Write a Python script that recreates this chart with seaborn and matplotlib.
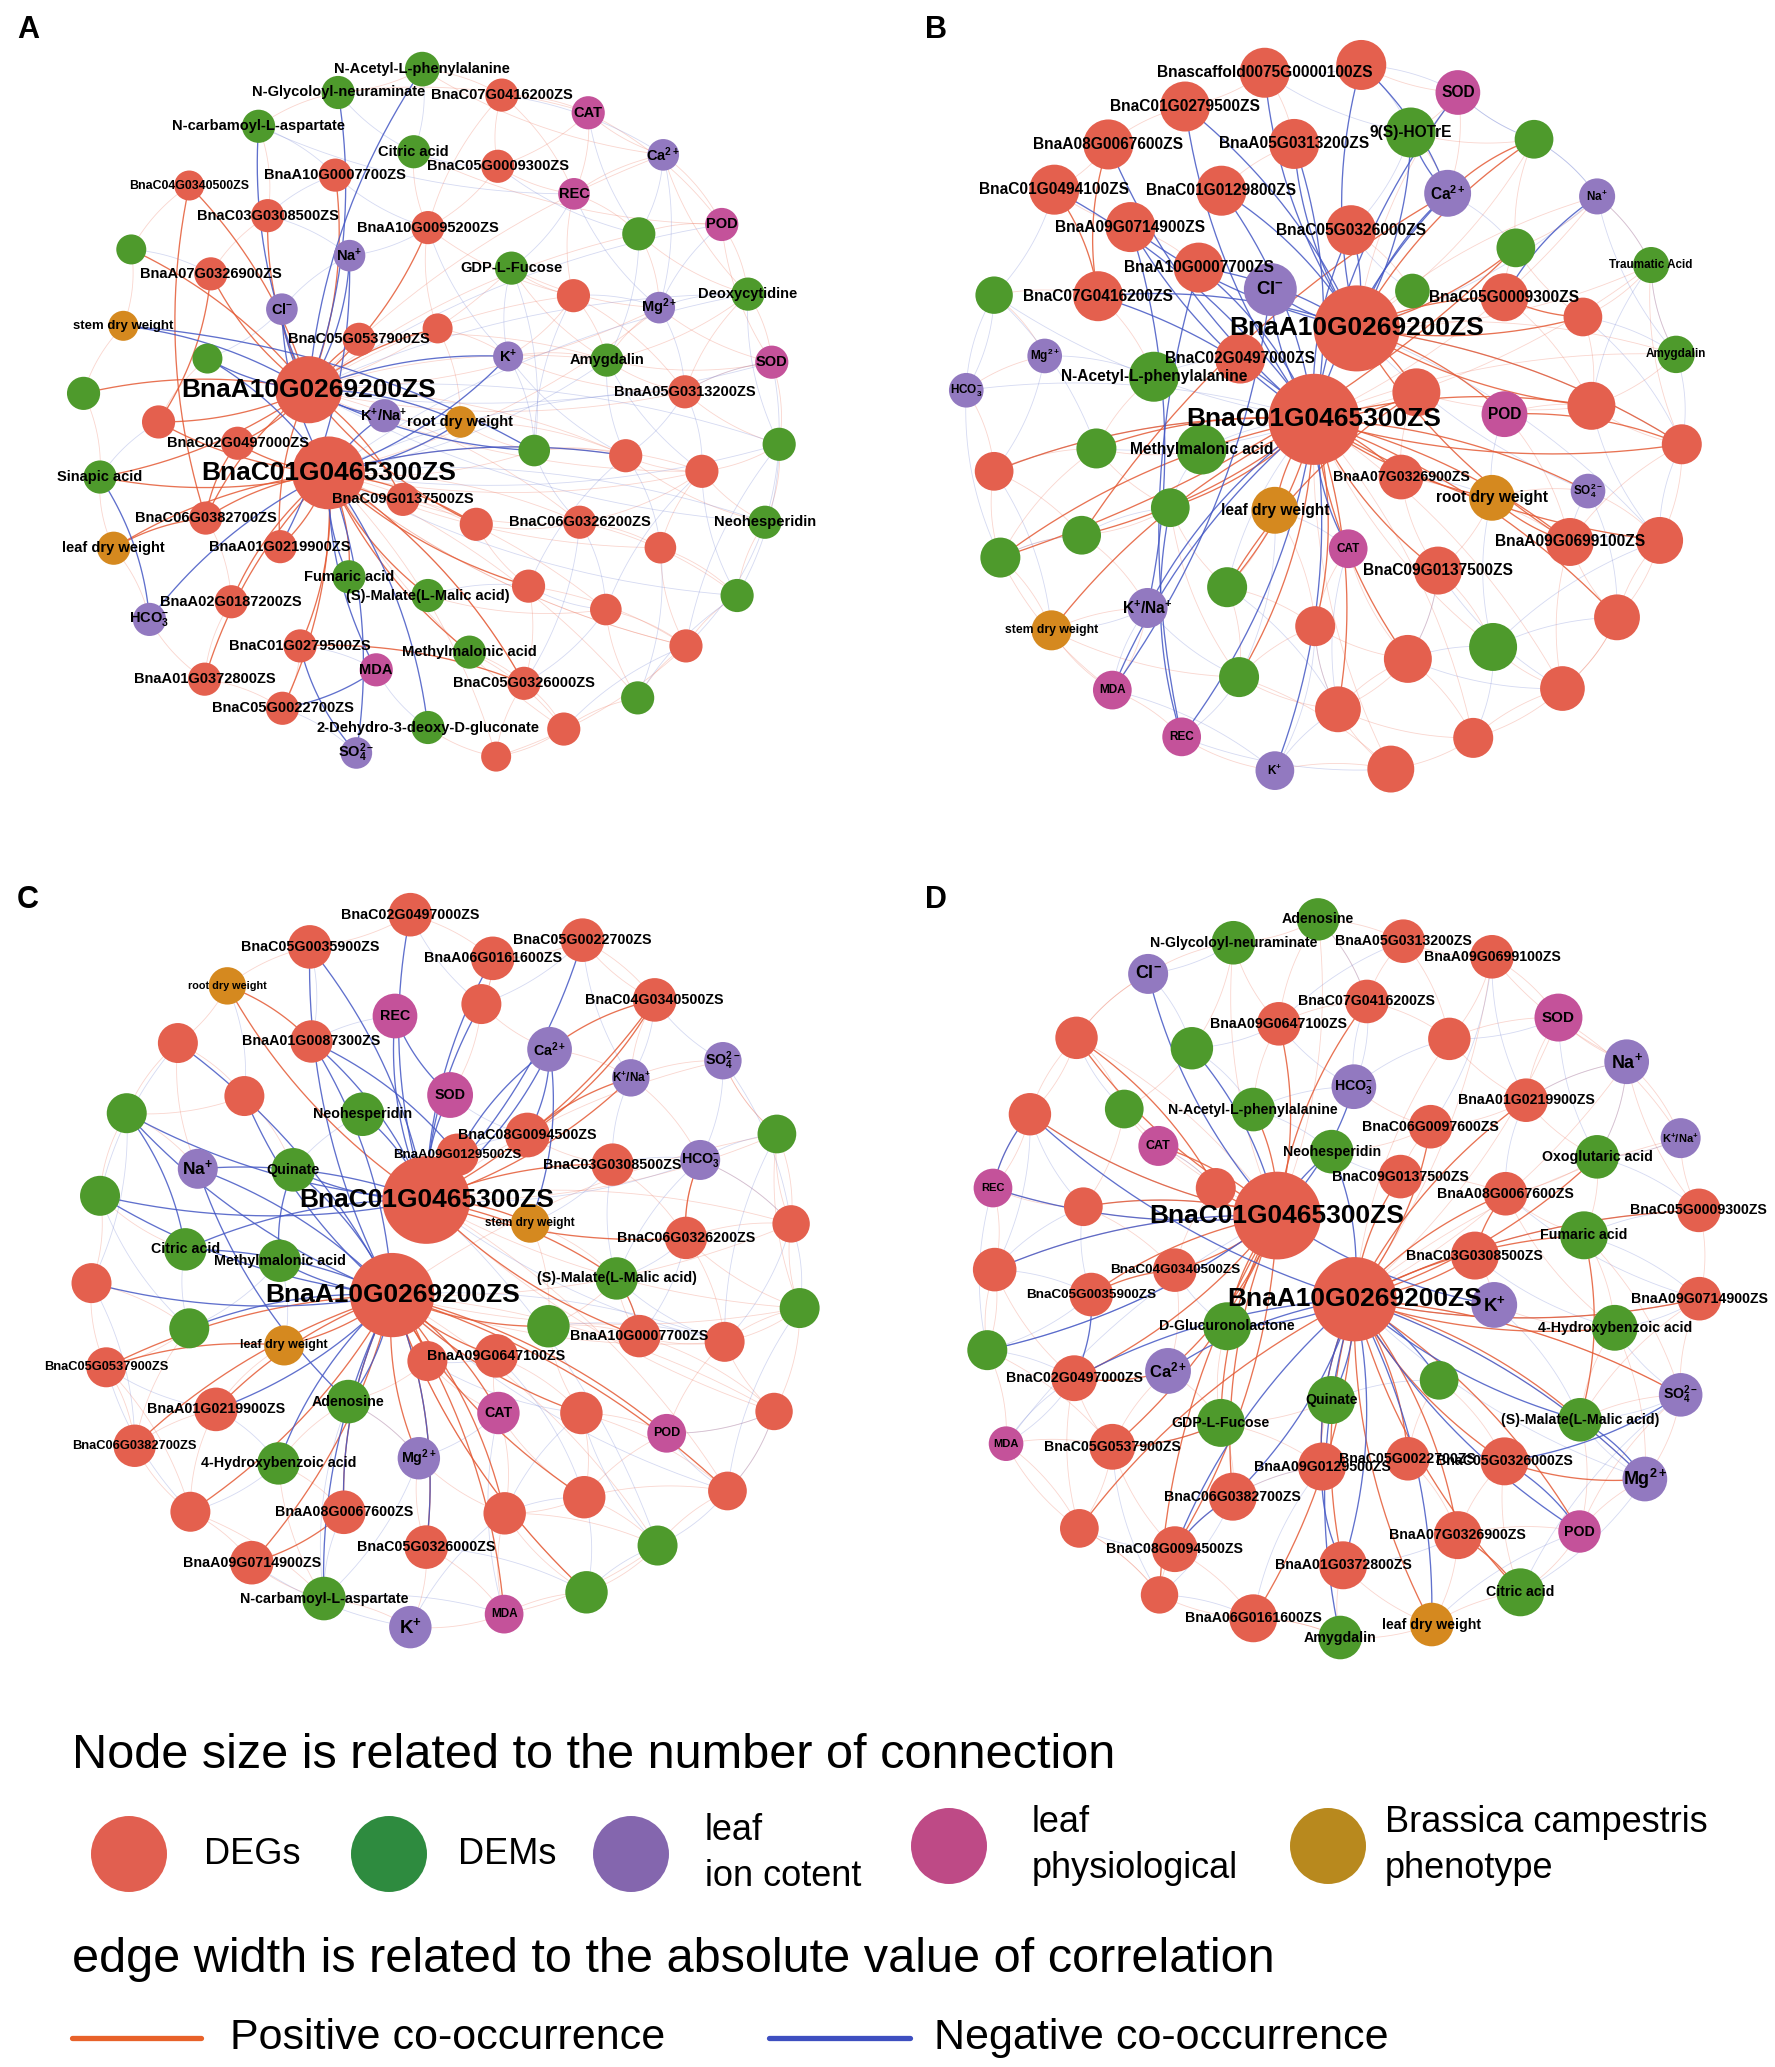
import numpy as np
import pandas as pd
import matplotlib
matplotlib.use("Agg")
import matplotlib.pyplot as plt
import seaborn as sns
from matplotlib.collections import LineCollection

# ---------------- data ----------------
CA, NA, CL, MG = r'Ca$^{2+}$', r'Na$^{+}$', r'Cl$^{-}$', r'Mg$^{2+}$'
K, KNA = r'K$^{+}$', r'K$^{+}$/Na$^{+}$'
HCO3, SO4 = r'HCO$_3^{-}$', r'SO$_4^{2-}$'

# (id, label, type, layout x, layout y, number of links)
nodes_a = [
    (1, 'N-Acetyl-L-phenylalanine', 'DEM', 743, 133, 12), (2, 'N-Glycoloyl-neuraminate', 'DEM', 595, 178, 11),
    (3, 'BnaC07G0416200ZS', 'DEG', 883, 183, 11), (4, 'CAT', 'phys', 1035, 217, 11),
    (5, 'N-carbamoyl-L-aspartate', 'DEM', 455, 243, 11), (6, 'Citric acid', 'DEM', 728, 292, 11),
    (7, 'BnaA10G0007700ZS', 'DEG', 590, 337, 11), (8, 'BnaC05G0009300ZS', 'DEG', 876, 320, 11),
    (9, CA, 'ion', 1167, 298, 10), (10, 'BnaC04G0340500ZS', 'DEG', 333, 357, 9),
    (11, 'REC', 'phys', 1010, 373, 10), (12, 'BnaC03G0308500ZS', 'DEG', 471, 415, 11),
    (13, 'BnaA10G0095200ZS', 'DEG', 753, 438, 11), (14, 'POD', 'phys', 1270, 432, 11),
    (15, '', 'DEM', 1124, 450, 11), (16, '', 'DEM', 231, 480, 9),
    (17, NA, 'ion', 615, 492, 10), (18, 'GDP-L-Fucose', 'DEM', 900, 516, 11),
    (19, 'BnaA07G0326900ZS', 'DEG', 371, 527, 11), (20, '', 'DEG', 1009, 569, 11),
    (21, MG, 'ion', 1160, 592, 10), (22, 'Deoxycytidine', 'DEM', 1316, 566, 11),
    (23, CL, 'ion', 496, 595, 10), (24, 'stem dry weight', 'pheno', 217, 627, 9),
    (25, '', 'DEG', 770, 632, 9), (26, 'BnaC05G0537900ZS', 'DEG', 632, 653, 11),
    (27, K, 'ion', 894, 686, 9), (28, '', 'DEM', 365, 690, 9),
    (29, 'Amygdalin', 'DEM', 1068, 693, 11), (30, 'SOD', 'phys', 1358, 697, 11),
    (31, '', 'DEM', 147, 757, 11), (32, 'BnaA10G0269200ZS', 'DEG', 543, 750, 45),
    (33, 'BnaA05G0313200ZS', 'DEG', 1205, 754, 11), (34, KNA, 'ion', 676, 800, 11),
    (35, 'root dry weight', 'pheno', 810, 812, 10), (36, '', 'DEG', 279, 812, 11),
    (37, 'BnaC02G0497000ZS', 'DEG', 418, 853, 11), (38, '', 'DEM', 940, 867, 10),
    (39, '', 'DEG', 1101, 877, 11), (40, '', 'DEM', 1371, 855, 11),
    (41, 'Sinapic acid', 'DEM', 176, 918, 11), (42, 'BnaC01G0465300ZS', 'DEG', 578, 910, 53),
    (43, '', 'DEG', 1235, 907, 11), (44, 'BnaC09G0137500ZS', 'DEG', 709, 961, 11),
    (45, 'BnaC06G0382700ZS', 'DEG', 362, 997, 11), (46, '', 'DEG', 838, 1009, 11),
    (47, 'BnaC06G0326200ZS', 'DEG', 1020, 1005, 11), (48, 'Neohesperidin', 'DEM', 1346, 1005, 11),
    (49, 'leaf dry weight', 'pheno', 200, 1055, 11), (50, 'BnaA01G0219900ZS', 'DEG', 493, 1052, 11),
    (51, '', 'DEG', 1162, 1054, 10), (52, 'Fumaric acid', 'DEM', 614, 1110, 11),
    (53, '(S)-Malate(L-Malic acid)', 'DEM', 753, 1146, 11), (54, '', 'DEG', 930, 1128, 11),
    (55, '', 'DEM', 1297, 1146, 11), (56, 'BnaA02G0187200ZS', 'DEG', 407, 1158, 11),
    (57, HCO3, 'ion', 263, 1192, 11), (58, '', 'DEG', 1066, 1173, 10),
    (59, 'BnaC01G0279500ZS', 'DEG', 528, 1243, 11), (60, 'Methylmalonic acid', 'DEM', 826, 1255, 11),
    (61, 'MDA', 'phys', 662, 1289, 11), (62, '', 'DEG', 1207, 1243, 11),
    (63, 'BnaA01G0372800ZS', 'DEG', 360, 1307, 11), (64, 'BnaC05G0326000ZS', 'DEG', 922, 1315, 11),
    (65, '', 'DEM', 1122, 1343, 11), (66, 'BnaC05G0022700ZS', 'DEG', 497, 1363, 11),
    (67, '2-Dehydro-3-deoxy-D-gluconate', 'DEM', 753, 1400, 11), (68, '', 'DEG', 992, 1403, 11),
    (69, SO4, 'ion', 627, 1449, 10), (70, '', 'DEG', 873, 1456, 9),
]

nodes_b = [
    (1, 'Bnascaffold0075G0000100ZS', 'DEG', 668, 140, 25), (2, '', 'DEG', 838, 125, 25),
    (3, 'SOD', 'phys', 1008, 178, 20), (4, 'BnaC01G0279500ZS', 'DEG', 528, 205, 25),
    (5, 'BnaA08G0067600ZS', 'DEG', 393, 278, 25), (6, 'BnaA05G0313200ZS', 'DEG', 720, 277, 25),
    (7, '9(S)-HOTrE', 'DEM', 925, 255, 25), (8, '', 'DEM', 1142, 268, 15),
    (9, 'BnaC01G0494100ZS', 'DEG', 298, 365, 25), (10, 'BnaC01G0129800ZS', 'DEG', 592, 367, 25),
    (11, CA, 'ion', 990, 372, 22), (12, NA, 'ion', 1253, 378, 13),
    (13, 'BnaA09G0714900ZS', 'DEG', 432, 437, 25), (14, 'BnaC05G0326000ZS', 'DEG', 820, 443, 25),
    (15, '', 'DEM', 1110, 477, 15), (16, 'Traumatic Acid', 'DEM', 1348, 510, 13),
    (17, 'BnaA10G0007700ZS', 'DEG', 552, 515, 25), (18, CL, 'ion', 678, 557, 28),
    (19, '', 'DEM', 192, 568, 14), (20, 'BnaC07G0416200ZS', 'DEG', 375, 570, 25),
    (21, '', 'DEM', 928, 560, 12), (22, 'BnaC05G0009300ZS', 'DEG', 1090, 572, 23),
    (23, '', 'DEG', 1228, 610, 15), (24, 'BnaA10G0269200ZS', 'DEG', 830, 632, 74),
    (25, MG, 'ion', 281, 685, 12), (26, 'Amygdalin', 'DEM', 1392, 682, 14),
    (27, 'BnaC02G0497000ZS', 'DEG', 625, 690, 25), (28, 'N-Acetyl-L-phenylalanine', 'DEM', 473, 725, 25),
    (29, HCO3, 'ion', 143, 751, 12), (30, '', 'DEG', 935, 755, 23),
    (31, 'POD', 'phys', 1090, 797, 21), (32, '', 'DEG', 1243, 781, 23),
    (33, 'BnaC01G0465300ZS', 'DEG', 755, 807, 83), (34, '', 'DEM', 372, 863, 16),
    (35, 'Methylmalonic acid', 'DEM', 557, 865, 25), (36, '', 'DEG', 1402, 855, 16),
    (37, '', 'DEG', 192, 907, 15), (38, 'BnaA07G0326900ZS', 'DEG', 908, 918, 20),
    (39, SO4, 'ion', 1237, 945, 12), (40, 'root dry weight', 'pheno', 1068, 958, 21),
    (41, '', 'DEM', 502, 977, 15), (42, 'leaf dry weight', 'pheno', 686, 982, 22),
    (43, '', 'DEM', 346, 1030, 15), (44, 'BnaA09G0699100ZS', 'DEG', 1205, 1043, 23),
    (45, '', 'DEG', 1363, 1040, 22), (46, 'CAT', 'phys', 815, 1056, 15),
    (47, '', 'DEM', 203, 1073, 16), (48, 'BnaC09G0137500ZS', 'DEG', 973, 1098, 23),
    (49, '', 'DEM', 602, 1130, 16), (50, KNA, 'ion', 462, 1170, 16),
    (51, 'stem dry weight', 'pheno', 293, 1213, 16), (52, '', 'DEG', 757, 1205, 16),
    (53, '', 'DEM', 1070, 1245, 23), (54, '', 'DEG', 1288, 1188, 21),
    (55, '', 'DEG', 920, 1268, 23), (56, '', 'DEM', 623, 1303, 16),
    (57, 'MDA', 'phys', 400, 1328, 15), (58, '', 'DEG', 797, 1365, 21),
    (59, '', 'DEG', 1192, 1325, 20), (60, 'REC', 'phys', 522, 1418, 15),
    (61, '', 'DEG', 1035, 1420, 16), (62, K, 'ion', 686, 1483, 15),
    (63, '', 'DEG', 890, 1480, 22),
]

nodes_c = [
    (1, 'BnaC02G0497000ZS', 'DEG', 722, 86, 19), (2, 'BnaC05G0035900ZS', 'DEG', 545, 148, 19),
    (3, 'BnaC05G0022700ZS', 'DEG', 1025, 135, 19), (4, 'BnaA06G0161600ZS', 'DEG', 867, 170, 19),
    (5, 'root dry weight', 'pheno', 400, 223, 14), (6, '', 'DEG', 847, 258, 16),
    (7, 'BnaC04G0340500ZS', 'DEG', 1152, 250, 19), (8, 'REC', 'phys', 695, 281, 20),
    (9, 'BnaA01G0087300ZS', 'DEG', 548, 330, 18), (10, '', 'DEG', 313, 333, 16),
    (11, CA, 'ion', 967, 345, 20), (12, SO4, 'ion', 1272, 367, 14),
    (13, KNA, 'ion', 1110, 400, 14), (14, 'SOD', 'phys', 792, 433, 21),
    (15, '', 'DEG', 430, 435, 16), (16, '', 'DEM', 223, 468, 16),
    (17, 'Neohesperidin', 'DEM', 638, 470, 19), (18, 'BnaC08G0094500ZS', 'DEG', 928, 510, 20),
    (19, '', 'DEM', 1367, 508, 15), (20, 'BnaA09G0129500ZS', 'DEG', 805, 548, 18),
    (21, NA, 'ion', 348, 575, 16), (22, 'Quinate', 'DEM', 516, 577, 19),
    (23, 'BnaC03G0308500ZS', 'DEG', 1078, 567, 18), (24, HCO3, 'ion', 1232, 558, 16),
    (25, '', 'DEM', 176, 627, 16), (26, 'BnaC01G0465300ZS', 'DEG', 750, 635, 77),
    (27, 'stem dry weight', 'pheno', 933, 680, 15), (28, '', 'DEG', 1392, 681, 14),
    (29, 'BnaC06G0326200ZS', 'DEG', 1207, 708, 18), (30, 'Citric acid', 'DEM', 326, 730, 18),
    (31, 'Methylmalonic acid', 'DEM', 492, 752, 18), (32, '(S)-Malate(L-Malic acid)', 'DEM', 1085, 786, 18),
    (33, '', 'DEG', 161, 795, 16), (34, 'BnaA10G0269200ZS', 'DEG', 690, 818, 71),
    (35, '', 'DEM', 1407, 843, 16), (36, '', 'DEM', 333, 882, 16),
    (37, '', 'DEM', 965, 878, 18), (38, 'BnaA10G0007700ZS', 'DEG', 1125, 897, 18),
    (39, '', 'DEG', 1275, 908, 16), (40, 'leaf dry weight', 'pheno', 500, 915, 16),
    (41, 'BnaC05G0537900ZS', 'DEG', 187, 957, 16), (42, '', 'DEG', 752, 945, 16),
    (43, 'BnaA09G0647100ZS', 'DEG', 873, 935, 19), (44, 'Adenosine', 'DEM', 613, 1023, 19),
    (45, 'BnaA01G0219900ZS', 'DEG', 380, 1038, 19), (46, 'CAT', 'phys', 877, 1045, 18),
    (47, '', 'DEG', 1023, 1045, 18), (48, '', 'DEG', 1362, 1042, 14),
    (49, 'POD', 'phys', 1173, 1084, 15), (50, 'BnaC06G0382700ZS', 'DEG', 237, 1108, 18),
    (51, MG, 'ion', 737, 1132, 18), (52, '4-Hydroxybenzoic acid', 'DEM', 490, 1142, 18),
    (53, '', 'DEG', 335, 1235, 16), (54, 'BnaA08G0067600ZS', 'DEG', 605, 1236, 19),
    (55, '', 'DEG', 888, 1238, 18), (56, '', 'DEG', 1028, 1207, 18),
    (57, '', 'DEG', 1280, 1195, 15), (58, '', 'DEM', 1157, 1300, 16),
    (59, 'BnaC05G0326000ZS', 'DEG', 750, 1303, 19), (60, 'BnaA09G0714900ZS', 'DEG', 443, 1333, 19),
    (61, '', 'DEM', 1032, 1390, 18), (62, 'N-carbamoyl-L-aspartate', 'DEM', 570, 1402, 19),
    (63, 'MDA', 'phys', 887, 1432, 15), (64, K, 'ion', 722, 1457, 18),
]

nodes_d = [
    (1, 'Adenosine', 'DEM', 762, 95, 18), (2, 'N-Glycoloyl-neuraminate', 'DEM', 613, 140, 19),
    (3, 'BnaA05G0313200ZS', 'DEG', 912, 137, 19), (4, 'BnaA09G0699100ZS', 'DEG', 1068, 167, 19),
    (5, CL, 'ion', 463, 200, 16), (6, 'BnaC07G0416200ZS', 'DEG', 848, 253, 19),
    (7, 'SOD', 'phys', 1185, 284, 23), (8, 'BnaA09G0647100ZS', 'DEG', 693, 296, 19),
    (9, '', 'DEG', 337, 323, 18), (10, '', 'DEM', 540, 343, 18),
    (11, '', 'DEG', 993, 325, 18), (12, NA, 'ion', 1305, 369, 20),
    (13, HCO3, 'ion', 825, 417, 20), (14, 'BnaA01G0219900ZS', 'DEG', 1128, 443, 19),
    (15, '', 'DEM', 421, 460, 15), (16, 'N-Acetyl-L-phenylalanine', 'DEM', 648, 461, 19),
    (17, '', 'DEG', 255, 470, 18), (18, 'BnaC06G0097600ZS', 'DEG', 960, 494, 19),
    (19, KNA, 'ion', 1400, 516, 16), (20, 'CAT', 'phys', 481, 531, 16),
    (21, 'Neohesperidin', 'DEM', 786, 542, 19), (22, 'Oxoglutaric acid', 'DEM', 1253, 552, 19),
    (23, 'BnaC09G0137500ZS', 'DEG', 907, 590, 19), (24, '', 'DEG', 582, 612, 16),
    (25, 'REC', 'phys', 190, 612, 15), (26, 'BnaA08G0067600ZS', 'DEG', 1092, 623, 19),
    (27, '', 'DEG', 349, 648, 15), (28, 'BnaC05G0009300ZS', 'DEG', 1432, 655, 19),
    (29, 'BnaC01G0465300ZS', 'DEG', 690, 665, 77), (30, 'Fumaric acid', 'DEM', 1230, 703, 23),
    (31, 'BnaC03G0308500ZS', 'DEG', 1038, 742, 23), (32, '', 'DEG', 193, 769, 19),
    (33, 'BnaC04G0340500ZS', 'DEG', 510, 770, 19), (34, 'BnaC05G0035900ZS', 'DEG', 363, 817, 19),
    (35, 'BnaA09G0714900ZS', 'DEG', 1433, 825, 19), (36, 'BnaA10G0269200ZS', 'DEG', 826, 826, 71),
    (37, K, 'ion', 1072, 837, 21), (38, 'D-Glucuronolactone', 'DEM', 602, 878, 23),
    (39, '4-Hydroxybenzoic acid', 'DEM', 1284, 881, 21), (40, '', 'DEM', 180, 924, 16),
    (41, CA, 'ion', 498, 964, 21), (42, 'BnaC02G0497000ZS', 'DEG', 333, 978, 21),
    (43, '', 'DEM', 975, 982, 15), (44, SO4, 'ion', 1400, 1010, 19),
    (45, 'Quinate', 'DEM', 785, 1020, 23), (46, 'GDP-L-Fucose', 'DEM', 591, 1064, 23),
    (47, '(S)-Malate(L-Malic acid)', 'DEM', 1223, 1058, 19), (48, 'MDA', 'phys', 213, 1104, 12),
    (49, 'BnaC05G0537900ZS', 'DEG', 400, 1110, 21), (50, 'BnaA09G0129500ZS', 'DEG', 769, 1148, 23),
    (51, 'BnaC05G0022700ZS', 'DEG', 920, 1133, 19), (52, 'BnaC05G0326000ZS', 'DEG', 1090, 1138, 23),
    (53, MG, 'ion', 1337, 1172, 20), (54, 'BnaC06G0382700ZS', 'DEG', 612, 1206, 23),
    (55, '', 'DEG', 342, 1267, 15), (56, 'POD', 'phys', 1222, 1273, 18),
    (57, 'BnaA07G0326900ZS', 'DEG', 1008, 1280, 23), (58, 'BnaC08G0094500ZS', 'DEG', 510, 1307, 21),
    (59, 'BnaA01G0372800ZS', 'DEG', 806, 1338, 23), (60, 'Citric acid', 'DEM', 1118, 1390, 23),
    (61, '', 'DEG', 483, 1395, 14), (62, 'BnaA06G0161600ZS', 'DEG', 648, 1440, 23),
    (63, 'Amygdalin', 'DEM', 801, 1477, 19), (64, 'leaf dry weight', 'pheno', 962, 1452, 19),
]

# edges: "h:a,b,c" = hub h linked to a, b, c ; "a-b" = single link
edges_a = {
    'strong_pos': "32:36,31,41,45,19,10,12,7,26,13,37,50,25,46,44,16 42:37,45,50,56,59,63,66,44,46,60,64,49,41,53,52,54,36 "
                  "37-45 19-36 10-45 59-64 45-49",
    'strong_neg': "32:23,17,28,24,5,2,27,34,35,38,1 42:57,69,61,67,52,34,35,23,28,39,27 24-38 57-41 69-59 66-61 17-50",
    'weak_pos': "3-4 3-8 3-11 4-9 4-14 8-11 9-14 11-20 14-22 14-30 15-21 18-20 20-29 21-30 22-30 22-33 27-29 29-33 "
                "30-40 33-40 38-39 39-43 40-48 43-48 47-51 48-55 51-55 55-62 58-62 62-65 64-68 65-68 68-70 67-70 "
                "60-64 46-47 25-27 6-13 1-3 2-5 5-12 10-16 16-24 24-31 31-41 41-49 49-57 57-63 63-66 12-19 1-2 "
                "28-36 45-56 56-63 59-66 1-9 2-4 6-14 32:20,21,29,33,9 42:43,47,51,58,62,65,68,70 13-20 26-29 "
                "44-47 35-39 53-58 54-62 47-43 20-33 9-22 4-11 18-29 11-15 "
                "15-22 15-14 9-11 4-8 3-13 8-13 18-21 20-27 21-29 22-29 29-30 33-30 27-33 38-43 39-48 40-43 "
                "43-51 47-55 51-62 54-64 58-65 62-70 64-70 60-68 46-54 44-46 35-38 25-35 13-25 "
                "32:15,18,39,43,47 42:38,39,62,64,21",
    'weak_neg': "3-9 8-15 9-15 11-21 15-29 18-27 21-22 29-43 33-43 38-47 39-51 43-55 47-58 54-58 58-64 62-68 53-54 "
                "6-8 5-7 7-12 16-19 36-41 59-61 61-67 66-69 5-11 32:14,30,22 42:40,48,55 27-38 34-35 13-17 17-23 "
                "23-28 2-6 1-6 7-13 12-17 27-39 20-21 30-33 40-55 "
                "14-21 9-21 4-15 11-18 22-40 30-48 40-62 48-62 43-58 51-65 55-65 47-64 39-54 33-39 29-39 21-33 "
                "20-38 18-38 13-27 32:40,48 42:33,29,22",
}
edges_b = {
    'strong_pos': "24:22,23,31,32,8,15,30,44,36 33:37,43,47,41,42,38,48,44,45,54,36,52,55,58,40,39,30,32,51,56,34,49 "
                  "5-20 9-20 47-15 43-11 8-11 49-30 40-44 31-36 22-23",
    'strong_neg': "24:1,4,6,10,13,17,18,20,11,7,2,14 33:4,10,13,17,18,20,5,9,14,6,11,50,60,57,62,46,3 "
                  "11-2 11-7 12-22 18-57 17-60 13-50 41-60",
    'weak_pos': "19-25 25-29 29-37 37-47 47-51 51-57 57-60 60-62 62-63 63-61 61-59 59-54 54-45 45-36 36-32 32-26 "
                "26-16 16-12 1-4 4-5 5-9 34-37 41-43 41-49 49-56 56-58 58-55 52-55 48-53 44-54 39-45 46-52 42-49 "
                "34-35 16-23 15-22 3-7 16-36 23-32 47-57 56-63 58-63 33:61,63,59,53 24:26,16 1-6 6-10 13-17 9-13 "
                "20-28 28-34 19-20 43-47 37-43 52-56 55-61 53-59 54-59 44-59 48-55 38-48 40-48 30-38 31-32 21-22 14-21 "
                "2-3 3-11 7-8 7-11 8-15 12-15 15-23 22-32 30-32 31-44 36-44 38-44 39-40 45-54 52-58 55-58 58-61 "
                "59-61 46-55 42-52 41-56 49-52 50-51 50-57 51-56 47-34 34-41 43-50 33:16,26,12 24:3,8,12",
    'weak_neg': "8-3 3-2 2-1 12-8 9-19 41-43 55-53 52-58 48-55 39-44 40-31 35-41 25-28 27-28 21-14 12-26 19-34 61-53 "
                "53-45 24:12,36 33:49,34,35 26-36 16-32 8-12 15-11 7-14 29-19 47-43 51-50 57-50 60-56 62-58 46-42 "
                "38-40 36-45 23-26 "
                "1-7 2-7 3-8 12-16 16-26 23-36 32-45 39-54 40-53 44-45 48-59 53-54 55-59 42-56 46-58 49-58 50-56 "
                "57-62 60-63 52-62 29-47 25-37 19-29 37-51 24:39,45 33:29,19,37",
}
edges_c = {
    'strong_pos': "26:27,29,32,38,23,7,5,13 34:42,43,46,47,49,51,55,56,59,54,60,41,40,50,53,45,63,37,57,61 "
                  "5-9 7-11 7-18 13-18 41-40 60-54 29-24 38-32",
    'strong_neg': "26:1,2,4,3,6,9,8,11,14,17,22,21,16,30,25,20 34:2,9,16,21,25,30,33,36,31,22,44,54,59,62,45,52,15,10 "
                  "11-18 11-20 11-27 8-14 9-20 21-44 16-30 22-31",
    'weak_pos': "10-15 10-16 15-16 16-25 25-33 33-41 41-50 50-53 53-60 60-62 62-64 64-63 63-61 61-58 58-57 57-48 "
                "48-39 39-35 35-28 28-19 19-12 12-13 13-7 7-3 3-4 4-1 1-2 2-5 5-10 24-29 29-28 38-39 32-37 37-47 "
                "47-49 49-56 56-57 55-63 46-55 51-59 59-64 45-50 36-41 44-52 42-44 43-46 35-48 19-35 23-29 18-23 "
                "6-14 6-4 26:12,19,28,35 34:58,61,48,39 27-37 40-45 52-54 55-56 47-56 "
                "3-7 4-6 6-11 11-13 12-19 13-24 19-28 24-28 29-35 29-39 35-39 38-48 39-49 47-57 49-48 56-58 55-61 "
                "59-63 63-58 55-58 46-56 43-47 42-46 37-38 32-38 27-32 51-55 44-51 52-62 53-62 45-53 41-53 36-50 "
                "33-36 25-30 16-21 10-21 15-22 34:35,19,28 26:57,48",
    'weak_neg': "12-24 19-24 28-39 38-32 55-56 54-62 52-53 30-36 31-36 14-18 23-24 1-6 2-9 8-9 3-6 13-23 24-28 "
                "32-29 46-51 58-61 57-58 49-57 48-57 34:57,39 26:24 31-40 17-22 20-18 42-43 44-51 47-55 53-41 "
                "60-64 62-63 "
                "7-12 7-13 3-13 12-28 19-39 28-35 35-57 48-49 47-58 56-61 55-64 59-61 46-63 43-56 42-47 37-39 "
                "32-39 29-38 23-32 23-27 24-32 51-62 44-62 45-52 41-45 33-50 25-36 16-33 10-25 5-15 26:39,58",
}
edges_d = {
    'strong_pos': "29:17,20,24,27,33,34,42,46,49,54,58,61,9,8,6,16,41,38 "
                  "36:26,31,30,39,47,52,57,59,62,50,51,60,44,35,28,22,14,18,23,64,56,55 "
                  "9-24 42-41 34-33 49-46 30-47 26-31 57-60 52-53",
    'strong_neg': "29:25,32,40,13,21,10,5,37 36:45,63,53,56,64,50,54,58,59,41,38,42,43,21,17,47 "
                  "25-17 42-34 58-54 50-59 52-56 53-47 44-52",
    'weak_pos': "5-2 2-1 1-3 3-4 4-7 7-12 12-19 19-28 28-35 35-44 44-53 53-56 56-60 60-64 64-63 63-62 62-61 61-55 "
                "55-48 48-40 40-32 32-25 25-17 17-9 9-5 6-8 6-11 3-6 11-7 11-14 12-22 14-22 18-21 8-16 22-26 26-30 "
                "30-39 39-47 47-44 52-57 57-56 59-63 58-62 54-58 49-55 42-49 27-33 24-20 31-37 37-39 45-46 46-41 "
                "48-49 12-28 19-22 7-14 4-11 1-8 29:2,1,15 36:12,19,7,11,4 10-15 15-20 2-10 13-18 23-26 43-51 "
                "51-57 50-54 46-50 38-46 "
                "1-6 2-8 3-11 4-12 7-19 12-14 14-18 18-23 22-30 26-39 30-44 35-47 39-53 44-56 47-56 52-60 57-64 "
                "59-64 62-63 58-61 55-61 49-58 48-55 42-55 40-49 32-42 32-40 25-27 17-25 9-17 9-15 5-9 15-27 "
                "24-33 33-41 41-49 46-54 45-50 43-52 29:32,25,9 36:44,35,53",
    'weak_neg': "5-10 10-8 16-21 13-16 13-6 43-45 46-49 50-54 51-52 47-53 32-27 17-27 40-42 55-58 61-62 36:53 "
                "29:40,48 1-6 4-14 7-11 12-14 19-22 28-30 35-39 39-44 44-47 33-38 20-24 9-15 42-48 21-23 "
                "2-5 3-8 6-13 11-13 4-18 7-22 12-22 14-26 22-28 26-35 30-35 31-39 37-47 44-60 53-60 56-64 57-59 "
                "50-62 54-61 49-61 48-42 40-34 32-34 27-34 17-32 25-40 10-16 8-13 36:28,35 29:17,27",
}

legend_types = ['DEGs', 'DEMs', 'leaf\nion cotent', 'leaf\nphysiological', 'Brassica campestris\nphenotype']

# ---------------- style ----------------
NODE_COLORS = {'DEG': '#E4604E', 'DEM': '#4E9A2C', 'ion': '#9279C0', 'phys': '#C4529A', 'pheno': '#D5891F'}
LEGEND_COLORS = ['#E15F50', '#2E8B3F', '#8466AE', '#BE4A86', '#B8891E']
EDGE_STYLE = {  # color, linewidth (pt), alpha
    'weak_pos': ('#EE7F68', 0.6, 0.32),
    'weak_neg': ('#7D8BD6', 0.6, 0.32),
    'strong_pos': ('#E45A35', 0.95, 0.85),
    'strong_neg': ('#4457C4', 0.95, 0.85),
}

sns.set_theme(style="white")
plt.rcParams['font.family'] = ['Liberation Sans', 'DejaVu Sans']
plt.rcParams['text.color'] = 'black'
plt.rcParams['mathtext.fontset'] = 'custom'
plt.rcParams['mathtext.rm'] = 'Liberation Sans:bold'
plt.rcParams['mathtext.it'] = 'Liberation Sans:bold'
plt.rcParams['mathtext.bf'] = 'Liberation Sans:bold'

W, H = 1775, 2067


def parse_edges(spec):
    pairs = []
    for tok in spec.split():
        if ':' in tok:
            h, rest = tok.split(':')
            pairs += [(int(h), int(t)) for t in rest.split(',')]
        else:
            a, b = tok.split('-')
            pairs.append((int(a), int(b)))
    return pairs


def curve(p, q, bend, n=24):
    p = np.asarray(p, float)
    q = np.asarray(q, float)
    d = q - p
    c = (p + q) / 2 + bend * np.array([-d[1], d[0]])
    t = np.linspace(0, 1, n)[:, None]
    return (1 - t) ** 2 * p + 2 * (1 - t) * t * c + t ** 2 * q


def draw_network(ax, nodes, edges, base_pt, hub_pt, label_pt):
    df = pd.DataFrame(nodes, columns=['id', 'label', 'type', 'x', 'y', 'links']).set_index('id', drop=False)
    for kind in ['weak_pos', 'weak_neg', 'strong_pos', 'strong_neg']:
        color, lw, alpha = EDGE_STYLE[kind]
        segs = []
        for i, (a, b) in enumerate(parse_edges(edges[kind])):
            bend = 0.12 if i % 2 else -0.12
            segs.append(curve(df.loc[a, ['x', 'y']].values, df.loc[b, ['x', 'y']].values, bend))
        ax.add_collection(LineCollection(segs, colors=color, linewidths=lw, alpha=alpha, zorder=1))

    sns.scatterplot(data=df, x='x', y='y', hue='type', palette=NODE_COLORS, size='links',
                    sizes=(0, 5184), size_norm=(0, 100), linewidth=0, legend=False, ax=ax, zorder=3)

    for _, r in df.iterrows():
        if not r['label']:
            continue
        fs = hub_pt if r['id'] in label_pt.get('hub', []) else label_pt.get(r['id'], base_pt)
        ax.text(r['x'], r['y'], r['label'], ha='center', va='center', fontsize=fs,
                fontweight='bold', color='black', zorder=4)

    ax.set_xlim(0, 1566)
    ax.set_ylim(1578, 0)
    ax.axis('off')


fig = plt.figure(figsize=(W / 100, H / 100), dpi=100)
fig.patch.set_facecolor('white')

panels = [
    ('A', nodes_a, edges_a, (0, 0), 10.5, {'hub': [32, 42], 10: 8.9, 24: 9.5}),
    ('B', nodes_b, edges_b, (885, 0), 11.2, {'hub': [24, 33], 12: 8.5, 16: 8.4, 25: 8.5, 26: 8.5, 29: 8.5,
                                             39: 8.5, 46: 8.5, 51: 8.8, 57: 8.5, 60: 8.5, 62: 8.5, 38: 10.2,
                                             18: 13.5}),
    ('C', nodes_c, edges_c, (0, 870), 10.3, {'hub': [26, 34], 5: 7.8, 27: 8.5, 13: 8.5, 63: 8.5, 49: 9,
                                              20: 9.5, 41: 9.3, 50: 9.3, 40: 9, 21: 12.5, 64: 13.5}),
    ('D', nodes_d, edges_d, (885, 870), 10.2, {'hub': [29, 36], 25: 8, 48: 8, 19: 8, 20: 9, 33: 9.7, 34: 9.7,
                                                5: 13, 12: 13, 37: 13.5, 53: 13, 41: 12, 7: 11}),
]

for letter, nodes, edges, (ox, oy), base_pt, label_pt in panels:
    ax = fig.add_axes([ox / W, 1 - (oy + 820) / H, 890 / W, 820 / H])
    draw_network(ax, nodes, edges, base_pt, 19, label_pt)
    fig.text((ox + (28 if ox == 0 else 51)) / W, 1 - (oy + 30) / H, letter, fontsize=22,
             fontweight='bold', ha='center', va='center')

# ---------------- legend ----------------
lg = fig.add_axes([0, 0, 1, 1], zorder=-1)
lg.set_xlim(0, W)
lg.set_ylim(H, 0)
lg.axis('off')

lg.text(72, 1755, 'Node size is related to the number of connection', fontsize=35, va='center', ha='left')
leg_x = [129, 389, 631, 949, 1328]
leg_y = [1854, 1854, 1854, 1846, 1846]
leg_df = pd.DataFrame({'x': leg_x, 'y': leg_y, 'kind': legend_types})
sns.scatterplot(data=leg_df, x='x', y='y', hue='kind', palette=LEGEND_COLORS, s=2994, linewidth=0,
                legend=False, ax=lg)
text_x = [204, 458, 705, 1032, 1385]
for tx, ty, lab in zip(text_x, leg_y, legend_types):
    lines = lab.split('\n')
    if len(lines) == 1:
        lg.text(tx, ty, lab, fontsize=26, va='center', ha='left')
    else:
        lg.text(tx, ty - 24, lines[0], fontsize=26, va='center', ha='left')
        lg.text(tx, ty + 22, lines[1], fontsize=26, va='center', ha='left')

lg.text(72, 1959, 'edge width is related to the absolute value of correlation', fontsize=35, va='center', ha='left')
lg.plot([72, 201], [2038, 2038], color='#E8622A', lw=3.8)
lg.text(230, 2038, 'Positive co-occurrence', fontsize=31, va='center', ha='left')
lg.plot([769, 910], [2038, 2038], color='#3E4FC0', lw=3.8)
lg.text(934, 2038, 'Negative co-occurrence', fontsize=31, va='center', ha='left')

fig.savefig('out.png', dpi=100, facecolor='white')
